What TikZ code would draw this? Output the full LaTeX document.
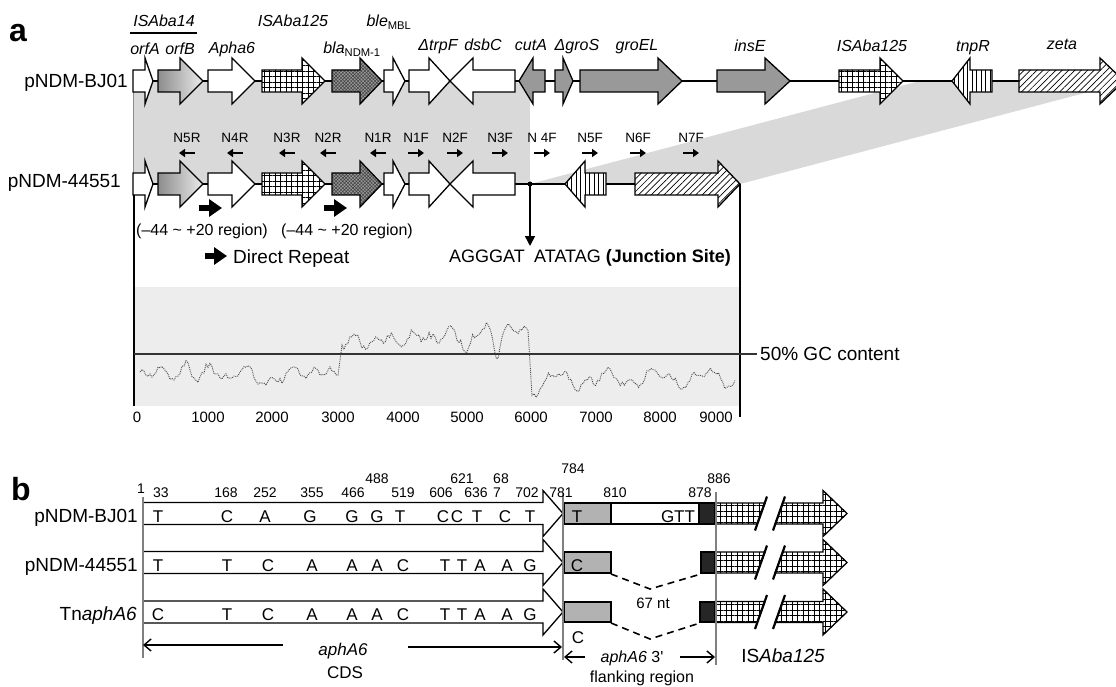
\documentclass[tikz,border=0pt]{standalone}
\usepackage{fontspec}
\setmainfont{Liberation Sans}
\usetikzlibrary{arrows.meta,patterns.meta}

\newcommand{\gene}[5][]{%
  \draw[genebox,#1] (#2,#5-11) -- (#3,#5-11) -- (#3,#5-23) -- (#4,#5)
    -- (#3,#5+23) -- (#3,#5+11) -- (#2,#5+11) -- cycle;}
\newcommand{\isbreak}[1]{%
  \draw[genebox,gridbox] (715,#1-10.5) -- (765,#1-10.5) -- (757,#1+10.5) -- (715,#1+10.5) -- cycle;
  \draw[genebox,gridbox] (783,#1-10.5) -- (823,#1-10.5) -- (823,#1-23) -- (847,#1)
    -- (823,#1+23) -- (823,#1+10.5) -- (775,#1+10.5) -- cycle;
  \draw[line width=2.2pt] (767,#1-17) -- (755,#1+17) (785,#1-17) -- (773,#1+17);}

\begin{document}
\begin{tikzpicture}[
  x=1pt, y=-1pt,
  every node/.style={inner sep=0pt},
  genebox/.style={draw, line width=1.3pt, fill=white, line join=miter},
  gradbox/.style={left color=black!45, right color=black!8},
  gridbox/.style={preaction={fill=white}, pattern={Hatch[distance=5.5pt, line width=0.8pt]}},
  stipbox/.style={preaction={fill=black!40}, pattern={Hatch[angle=45, distance=2.4pt, line width=0.5pt]}, pattern color=black!75},
  darkbox/.style={fill=black!40},
  vlinebox/.style={preaction={fill=white}, pattern={Lines[angle=90, distance=4.5pt, line width=0.8pt]}},
  diagbox/.style={preaction={fill=white}, pattern={Lines[angle=45, distance=4.5pt, line width=0.7pt]}},
  glab/.style={font=\fontsize{16}{18}\selectfont\itshape, anchor=base},
  rowlab/.style={font=\fontsize{19}{22}\selectfont, anchor=base east},
  plab/.style={font=\fontsize{13.5}{15}\selectfont, anchor=base},
  prim/.style={line width=2.5pt, -{Triangle[length=6pt, width=8pt]}},
  drep/.style={line width=6pt, -{Triangle[length=13pt, width=17pt]}},
  txt/.style={font=\fontsize{16}{18}\selectfont, anchor=base},
  axlab/.style={font=\fontsize{15}{17}\selectfont, anchor=base},
  gcline/.style={draw=black!70, line width=0.9pt, densely dotted},
  numlab/.style={font=\fontsize{14}{16}\selectfont, anchor=base},
  nt/.style={font=\fontsize{17}{19}\selectfont, anchor=base},
  guide/.style={draw=black!50, line width=1.2pt},
  flank/.style={draw, line width=1.3pt, fill=black!30},
  spanarr/.style={line width=1.4pt, -{Straight Barb[length=7pt, width=12pt]}},
  gapline/.style={line width=1.6pt, dash pattern=on 7pt off 5pt}
]
\useasboundingbox (0,0) rectangle (1116,687);
\pgfmathsetseed{7}

\fill[black!15] (133,81) rectangle (530,184);
\fill[black!15] (920,81) -- (1130,81) -- (740,184) -- (530,184) -- cycle;
\fill[black!7] (135,287) rectangle (740,406);
\draw[black!45, line width=0.8pt] (133,81) -- (133,184);
\draw[line width=1.2pt] (134,184) -- (134,406);
\draw[line width=1.2pt] (740,184) -- (740,417);

\draw[gcline] plot[domain=140:338, samples=100]
    (\x,{372+5*sin(17*\x)+4*sin(13*\x+20)+3*rand+20*max(0,1-abs(\x-268)/12)+8*max(0,1-abs(\x-230)/10)})
  -- plot[domain=342:528, samples=95]
    (\x,{343-0.07*(\x-342)+5*sin(19*\x)+4*sin(11*\x)+3*rand+18*max(0,1-abs(\x-467)/7)+18*max(0,1-abs(\x-497)/6)})
  -- plot[domain=532:735, samples=100]
    (\x,{378+7*sin(7*\x)+4*sin(17*\x)+3*rand+14*max(0,1-abs(\x-540)/14)+8*max(0,1-abs(\x-595)/8)});
\draw[line width=1.5pt, black!80] (134,354) -- (757,354);

\draw[line width=1.3pt] (133,81) -- (1116,81);
\draw[line width=1.3pt] (133,184) -- (740,184);

\foreach \ry in {81,184} {
  \gene{133}{145}{153}{\ry}
  \gene[gradbox]{158}{180}{203}{\ry}
  \gene{208}{232}{255}{\ry}
  \gene[gridbox]{262}{302}{325}{\ry}
  \gene[stipbox]{332}{360}{382}{\ry}
  \gene{384}{393}{405}{\ry}
  \gene{409}{429}{450}{\ry}
  \gene{515}{473}{450}{\ry}
}
\gene[darkbox]{545}{533}{519}{81}
\gene[darkbox]{555}{563}{573}{81}
\gene[darkbox]{580}{658}{682}{81}
\gene[darkbox]{717}{765}{790}{81}
\gene[gridbox]{839}{880}{903}{81}
\gene[vlinebox]{992}{970}{952}{81}
\gene[diagbox]{1019}{1100}{1124}{81}
\gene[vlinebox]{606}{585}{565}{184}
\gene[diagbox]{635}{718}{740}{184}

\node[font=\fontsize{32}{34}\selectfont\bfseries, anchor=base west] (pa) at (9,42) {a};
\node[rowlab] (rBJa) at (128,88) {pNDM-BJ01};
\node[rowlab] (rPLa) at (121,188) {pNDM-44551};

\node[glab] (gisa14) at (164,27) {ISAba14};
\draw[line width=1.5pt] (130,33) -- (197,33);
\node[glab] (gisa125a) at (293,27) {ISAba125};
\node[glab] (gble) at (389,27) {ble\textsubscript{\upshape MBL}};
\node[glab] (gorfA) at (145,55) {orfA};
\node[glab] (gorfB) at (180,55) {orfB};
\node[glab] (gapha) at (232,54) {Apha6};
\node[glab] (gbla) at (352,54) {bla\textsubscript{\upshape NDM-1}};
\node[glab] (gtrpF) at (438,51) {ΔtrpF};
\node[glab] (gdsbC) at (483,51) {dsbC};
\node[glab] (gcutA) at (531,51) {cutA};
\node[glab] (ggroS) at (577,51) {ΔgroS};
\node[glab] (ggroEL) at (637,51) {groEL};
\node[glab] (ginsE) at (750,52) {insE};
\node[glab] (gisa125b) at (872,52) {ISAba125};
\node[glab] (gtnpR) at (973,52) {tnpR};
\node[glab] (gzeta) at (1062,50) {zeta};

\foreach \px/\nm in {187/N5R, 235/N4R, 287/N3R, 328/N2R, 378/N1R} {
  \node[plab] (p\nm) at (\px,143) {\nm};
  \draw[prim] (\px+8,153) -- (\px-8,153);
}
\foreach \px/\nm/\lab in {416/N1F/N1F, 455/N2F/N2F, 500/N3F/N3F, 542/N4F/N 4F, 590/N5F/N5F, 638/N6F/N6F, 691/N7F/N7F} {
  \node[plab] (p\nm) at (\px,143) {\lab};
  \draw[prim] (\px-8,153) -- (\px+8,153);
}

\draw[drep] (199,208) -- (222,208);
\draw[drep] (324,208) -- (347,208);
\node[txt] (reg1) at (202,235) {(–44 \textasciitilde{} +20 region)};
\node[txt] (reg2) at (347,235) {(–44 \textasciitilde{} +20 region)};
\draw[drep] (205,256) -- (227,256);
\node[font=\fontsize{19}{22}\selectfont, anchor=base west] (drlab) at (233,263) {Direct Repeat};

\coordinate (jct) at (530,184);
\coordinate (jtip) at (530,246);
\fill (jct) circle (2.5pt);
\draw[line width=1.5pt, -{Triangle[length=10pt, width=10pt]}] (jct) -- (jtip);
\node[font=\fontsize{18}{20}\selectfont, anchor=base east] (jleft) at (525,262) {AGGGAT};
\node[font=\fontsize{18}{20}\selectfont, anchor=base west] (jright) at (534,262) {ATATAG \textbf{(Junction Site)}};

\node[font=\fontsize{19}{21}\selectfont, anchor=base west] (gclab) at (760,360) {50\% GC content};
\foreach \ax/\at in {137/0, 208/1000, 272/2000, 338/3000, 403/4000, 467/5000, 531/6000, 596/7000, 660/8000, 716/9000} {
  \node[axlab] (ax\at) at (\ax,422) {\at};
}

\node[font=\fontsize{32}{34}\selectfont\bfseries, anchor=base west] (pb) at (11,500) {b};
\node[rowlab] (rBJb) at (138,522) {pNDM-BJ01};
\node[rowlab] (rPLb) at (138,571) {pNDM-44551};
\node[rowlab] (rTnb) at (137,620) {Tn\textit{aphA6}};

\gene{143}{543}{563}{513.5}
\gene{143}{543}{563}{562.5}
\gene{143}{543}{563}{612}

\draw[flank] (564,503) rectangle (611,524);
\draw[genebox] (611,503) rectangle (699,524);
\draw[flank, fill=black!85] (699,503) rectangle (715,524);
\isbreak{513.5}
\draw[flank] (564,552) rectangle (611,573);
\draw[flank, fill=black!85] (701,552) rectangle (715,573);
\isbreak{562.5}
\draw[flank] (564,602) rectangle (611,622);
\draw[flank, fill=black!85] (700,602) rectangle (715,622);
\isbreak{612}

\draw[gapline] (611,574) -- (650,589) -- (701,574);
\draw[gapline] (611,623) -- (650,639) -- (700,623);
\node[font=\fontsize{15}{17}\selectfont, anchor=base] (gap67) at (653,608) {67 nt};

\draw[guide] (143,497) -- (143,658);
\draw[guide] (563,493) -- (563,660);
\draw[guide] (716,492) -- (716,665);

\foreach \nx/\ny/\nv in {141/493/1, 161/497/33, 226/497/168, 265/497/252, 312/497/355, 353/497/466, 377/483/488,
    403/497/519, 441/497/606, 462/483/621, 476/497/636, 501/483/68, 497/497/7, 527/497/702,
    561/497/781, 573/473/784, 615/497/810, 700/497/878, 719/483/886} {
  \node[numlab] (n\nv) at (\nx,\ny) {\nv};
}

\foreach \bx/\bl [count=\k] in {158/T, 227/C, 265/A, 310/G, 352/G, 377/G, 400/T, 443/C, 457/C, 477/T, 505/C, 530/T}
  \node[nt] (ba\k) at (\bx,522) {\bl};
\foreach \bx/\bl [count=\k] in {158/T, 227/T, 268/C, 312/A, 352/A, 377/A, 403/C, 445/T, 462/T, 480/A, 507/A, 530/G}
  \node[nt] (bb\k) at (\bx,571) {\bl};
\foreach \bx/\bl [count=\k] in {158/C, 227/T, 268/C, 312/A, 352/A, 377/A, 403/C, 445/T, 462/T, 480/A, 507/A, 530/G}
  \node[nt] (bc\k) at (\bx,620) {\bl};

\node[nt] (fT) at (577,522) {T};
\node[nt] (fGTT) at (678,522) {GTT};
\node[nt] (fC2) at (577,571) {C};
\node[nt] (fC3) at (578,643) {C};

\coordinate (cdsL) at (143,645);
\coordinate (cdsR) at (562,647);
\node[nt, font=\fontsize{17}{19}\selectfont\itshape] (cdsgene) at (343,655) {aphA6};
\node[nt] (cdsname) at (345,678) {CDS};
\draw[spanarr] (283,645) -- (cdsL);
\draw[spanarr] (408,647) -- (cdsR);

\coordinate (flL) at (564,657);
\coordinate (flR) at (715,657);
\node[txt] (flgene) at (632,662) {\textit{aphA6} 3\textquotesingle};
\node[txt] (flname) at (642,682) {flanking region};
\draw[spanarr] (585,657) -- (flL);
\draw[spanarr] (680,657) -- (flR);
\node[font=\fontsize{19}{21}\selectfont, anchor=base] (isname) at (783,662) {IS\textit{Aba125}};

\end{tikzpicture}
\end{document}
